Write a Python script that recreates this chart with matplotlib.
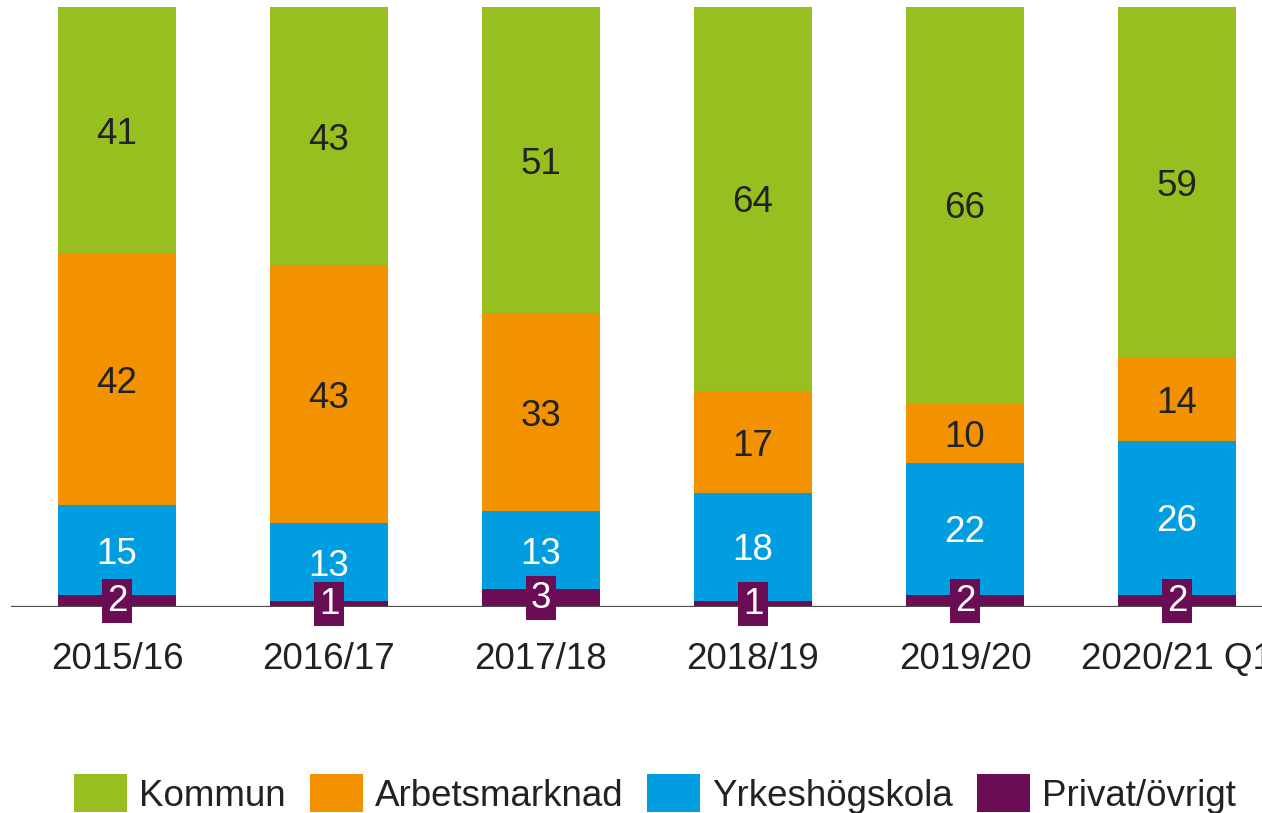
import numpy as np
import matplotlib
matplotlib.use("Agg")
import matplotlib.pyplot as plt

plt.rcParams["font.family"] = ["Liberation Sans", "DejaVu Sans"]

years = ["2015/16", "2016/17", "2017/18", "2018/19", "2019/20", "2020/21 Q1"]
series = ["Privat/övrigt", "Yrkeshögskola", "Arbetsmarknad", "Kommun"]
privat = [2, 1, 3, 1, 2, 2]
yrkes = [15, 13, 13, 18, 22, 26]
arbets = [42, 43, 33, 17, 10, 14]
kommun = [41, 43, 51, 64, 66, 59]

colors = ["#6b0d55", "#009ee0", "#f39200", "#97bf1f"]
text_colors = ["white", "white", "#222222", "#222222"]

values = np.array([privat, yrkes, arbets, kommun], dtype=float)
pct = values / values.sum(axis=0) * 100

FS = 26.5
fig = plt.figure(figsize=(12.62, 8.13), dpi=100)
ax = fig.add_axes([11 / 1262, 206 / 813, 1272 / 1262, 600 / 813])

x = np.arange(len(years))
bottom = np.zeros(len(years))
handles = []
for i, name in enumerate(series):
    bars = ax.bar(x, pct[i], 0.557, bottom=bottom, color=colors[i], label=name)
    handles.append(bars)
    for xi, b, h, v in zip(x, bottom, pct[i], values[i]):
        if i == 0:
            # small segment: label in a purple box straddling the baseline
            ax.text(xi, b + h / 2, f"{int(v)}", ha="center", va="center",
                    fontsize=FS, color=text_colors[i], zorder=6,
                    bbox=dict(boxstyle="square,pad=0.12", fc=colors[0], ec="none"))
        else:
            ax.text(xi, b + h / 2, f"{int(v)}", ha="center", va="center_baseline",
                    fontsize=FS, color=text_colors[i], zorder=6)
    bottom += pct[i]

ax.set_xlim(-0.5, len(years) - 0.5)
ax.set_ylim(0, 100)
ax.axhline(0, color="#4d4d4d", lw=1.6, zorder=5)
for s in ax.spines.values():
    s.set_visible(False)
ax.set_yticks([])
ax.set_xticks(x)
ax.set_xticklabels(years, fontsize=FS, color="#222222")
ax.tick_params(axis="x", length=0, pad=25)

fig.legend(handles[::-1], series[::-1], loc="center", ncol=4,
           bbox_to_anchor=(655 / 1262, 1 - 794 / 813), frameon=False,
           fontsize=FS, handlelength=1.44, handleheight=1.22,
           handletextpad=0.33, columnspacing=0.65, borderpad=0,
           labelcolor="#222222")

fig.savefig("out.png", dpi=100)
